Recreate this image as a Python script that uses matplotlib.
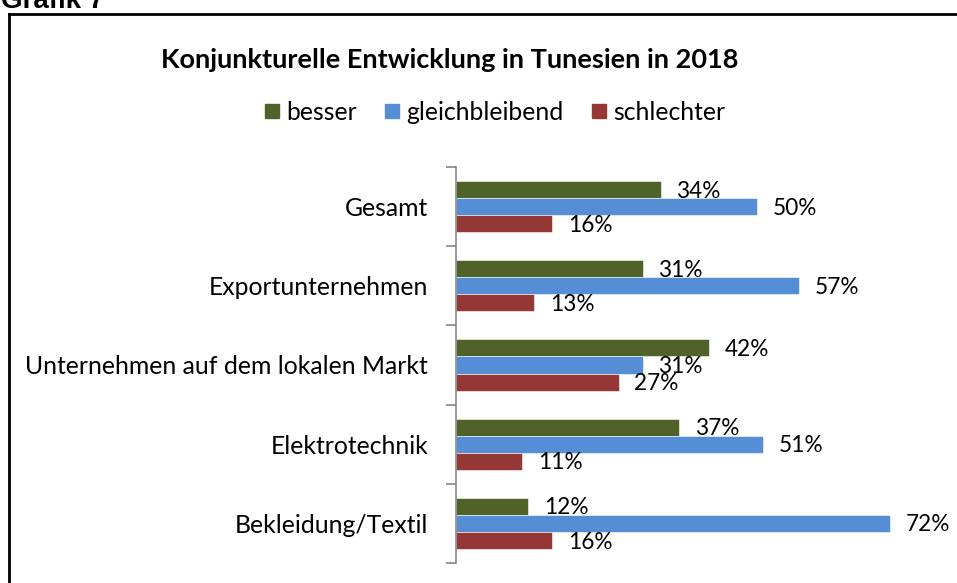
import numpy as np
import matplotlib.pyplot as plt
from matplotlib.lines import Line2D

# Daten
kategorien = ['Gesamt', 'Exportunternehmen', 'Unternehmen auf dem lokalen Markt',
              'Elektrotechnik', 'Bekleidung/Textil']
besser = [34, 31, 42, 37, 12]
gleichbleibend = [50, 57, 31, 51, 72]
schlechter = [16, 13, 27, 11, 16]
serien = ['besser', 'gleichbleibend', 'schlechter']
farben = ['#4F6228', '#558ED5', '#953735']

plt.rcParams['font.family'] = ['Lato', 'DejaVu Sans']

W, H = 957, 583
fig = plt.figure(figsize=(W / 100, H / 100), dpi=100)

# Achse
x0, x1 = 456, 938
y_top, y_bot = 167, 563
ax = fig.add_axes([x0 / W, 1 - y_bot / H, (x1 - x0) / W, (y_bot - y_top) / H])

n = len(kategorien)
y = np.arange(n)
bh = 0.215
werte = [besser, gleichbleibend, schlechter]
for i, (w, c) in enumerate(zip(werte, farben)):
    pos = y + (i - 1) * bh
    ax.barh(pos, w, height=bh, color=c, edgecolor='white', linewidth=0.4)
    for p, v in zip(pos, w):
        ax.text(v + 2.6, p + 0.02, f'{v}%', va='center', ha='left', fontsize=16.3)

ax.set_xlim(0, 80)
ax.set_ylim(n - 0.5, -0.5)
ax.set_yticks(y)
ax.set_yticklabels(kategorien, fontsize=17.8)
ax.set_yticks(np.arange(n + 1) - 0.5, minor=True)
ax.tick_params(axis='y', which='major', length=0, pad=20)
ax.tick_params(axis='y', which='minor', length=7, color='#868686', width=1.2)
ax.set_xticks([])
for s in ['top', 'right', 'bottom']:
    ax.spines[s].set_visible(False)
ax.spines['left'].set_color('#868686')
ax.spines['left'].set_linewidth(1.2)

# Titel
fig.text(450 / W, 1 - 60 / H, 'Konjunkturelle Entwicklung in Tunesien in 2018',
         ha='center', va='center', fontsize=19.5, fontweight='bold')

# Legende
handles = [Line2D([], [], marker='s', linestyle='', markersize=10,
                  markerfacecolor=c, markeredgecolor=c) for c in farben]
fig.legend(handles, serien, loc='center', bbox_to_anchor=(493 / W, 1 - 112 / H),
           ncol=3, frameon=False, fontsize=17.8, handletextpad=0.1,
           columnspacing=1.0, handlelength=0.9)

# Rahmen und Überschrift (oben abgeschnitten wie im Original)
fig.add_artist(Line2D([9 / W, 1.0], [1 - 14 / H, 1 - 14 / H], color='black', lw=2))
fig.add_artist(Line2D([9 / W, 9 / W], [1 - 14 / H, 0], color='black', lw=2))
fig.text(1 / W, 1 - 8 / H, 'Grafik 7', ha='left', va='baseline', fontsize=20,
         fontweight='bold', family=['Liberation Sans', 'DejaVu Sans'])

fig.savefig('out.png', dpi=100)
